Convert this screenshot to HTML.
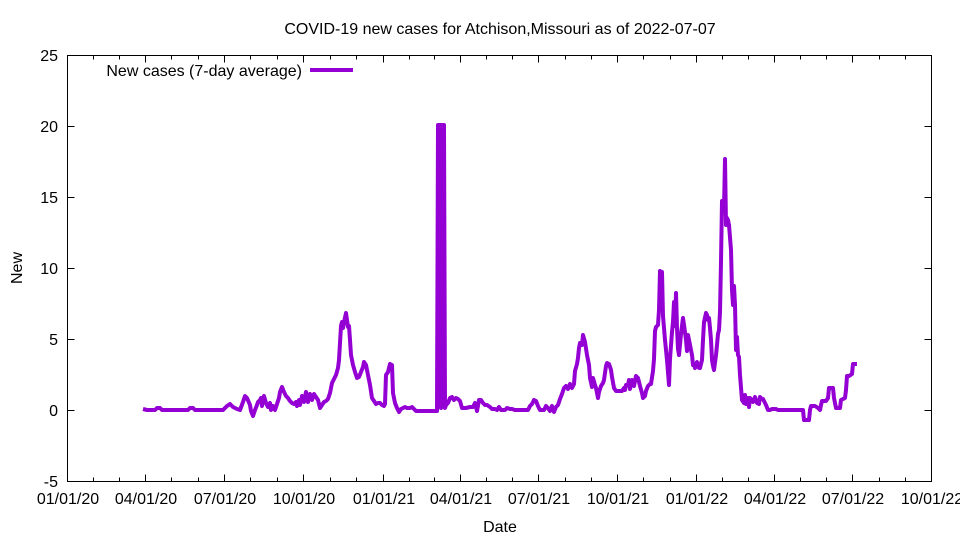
<!DOCTYPE html>
<html><head><meta charset="utf-8"><style>html,body{margin:0;padding:0;background:#fff}svg{display:block}text{font-family:"Liberation Sans",Arial,sans-serif;fill:#000}</style></head><body>
<svg width="960" height="540" xmlns="http://www.w3.org/2000/svg">
<rect width="960" height="540" fill="#fff"/>
<text x="500" y="34" font-size="16" text-anchor="middle">COVID-19 new cases for Atchison,Missouri as of 2022-07-07</text>
<g stroke="#000" stroke-width="1" fill="none">
<rect x="67.5" y="55.5" width="864" height="426"/>
<path d="M67.5 126.5h7M931.5 126.5h-7M67.5 197.5h7M931.5 197.5h-7M67.5 268.5h7M931.5 268.5h-7M67.5 339.5h7M931.5 339.5h-7M67.5 410.5h7M931.5 410.5h-7"/>
<path d="M145.5 481.5v-7M145.5 55.5v7M224.5 481.5v-7M224.5 55.5v7M303.5 481.5v-7M303.5 55.5v7M383.5 481.5v-7M383.5 55.5v7M460.5 481.5v-7M460.5 55.5v7M538.5 481.5v-7M538.5 55.5v7M617.5 481.5v-7M617.5 55.5v7M696.5 481.5v-7M696.5 55.5v7M774.5 481.5v-7M774.5 55.5v7M852.5 481.5v-7M852.5 55.5v7"/>
<path d="M93.5 481.5v-4M119.5 481.5v-4M171.5 481.5v-4M198.5 481.5v-4M250.5 481.5v-4M277.5 481.5v-4M330.5 481.5v-4M356.5 481.5v-4M409.5 481.5v-4M434.5 481.5v-4M486.5 481.5v-4M512.5 481.5v-4M565.5 481.5v-4M591.5 481.5v-4M643.5 481.5v-4M670.5 481.5v-4M722.5 481.5v-4M748.5 481.5v-4M800.5 481.5v-4M826.5 481.5v-4M879.5 481.5v-4M905.5 481.5v-4
M93.5 55.5v4M119.5 55.5v4M171.5 55.5v4M198.5 55.5v4M250.5 55.5v4M277.5 55.5v4M330.5 55.5v4M356.5 55.5v4M409.5 55.5v4M434.5 55.5v4M486.5 55.5v4M512.5 55.5v4M565.5 55.5v4M591.5 55.5v4M643.5 55.5v4M670.5 55.5v4M722.5 55.5v4M748.5 55.5v4M800.5 55.5v4M826.5 55.5v4M879.5 55.5v4M905.5 55.5v4"/>
</g>
<g font-size="16" text-anchor="end">
<text x="58" y="61">25</text><text x="58" y="132">20</text><text x="58" y="203">15</text><text x="58" y="274">10</text><text x="58" y="345">5</text><text x="58" y="416">0</text><text x="58" y="487">-5</text>
</g>
<g font-size="16" text-anchor="middle">
<text x="68" y="504">01/01/20</text><text x="146" y="504">04/01/20</text><text x="225" y="504">07/01/20</text><text x="304" y="504">10/01/20</text><text x="384" y="504">01/01/21</text><text x="461" y="504">04/01/21</text><text x="539" y="504">07/01/21</text><text x="618" y="504">10/01/21</text><text x="697" y="504">01/01/22</text><text x="775" y="504">04/01/22</text><text x="853" y="504">07/01/22</text><text x="932" y="504">10/01/22</text>
</g>
<text x="500" y="532" font-size="16" text-anchor="middle">Date</text>
<text transform="translate(22,268) rotate(-90)" font-size="16" text-anchor="middle">New</text>
<text x="302" y="76" font-size="16" text-anchor="end">New cases (7-day average)</text>
<path d="M310 70H353" stroke="#9400d3" stroke-width="4"/>
<polyline fill="none" stroke="#9400d3" stroke-width="4" stroke-linejoin="round" points="143,409 147,410 155,410 157,408 160,408 162,410 188,410 190,408 193,408 195,410 223,410 227,406 230,404 233,407 237,409 240,410 243,402 245,396 247,398 250,405 251,411 253,416 255,410 257,405 258,402 260,400 261,398 262,406 264,396 266,403 268,407 270,403 271,410 273,406 275,410 277,404 279,398 280,392 282,387 284,392 286,396 288,398 290,401 292,403 294,404 296,402 297,406 299,400 300,405 302,396 304,402 306,392 308,402 310,394 312,400 314,394 316,397 318,400 320,408 322,405 324,402 326,401 328,399 330,393 332,383 334,379 336,375 338,368 339,360 341,326 342,322 343,328 344,322 346,313 347,320 348,327 349,326 350,340 351,355 353,365 355,372 357,378 359,377 361,372 363,367 364,362 366,365 368,375 370,385 372,398 374,401 376,404 378,403 380,403 382,405 384,406 385,404 386,375 388,372 390,364 392,365 393,393 395,403 397,408 399,412 401,409 403,408 405,407 407,408 410,408 412,407 414,409 416,411 420,411 437,411 438,125 441,125 441,408 442,125 444,125 445,408 446,405 448,403 450,398 452,397 454,400 456,398 458,399 460,401 462,408 466,408 470,407 473,407 475,403 477,411 479,400 481,400 483,403 485,405 487,405 490,407 492,409 495,409 497,410 499,407 501,410 505,410 507,408 510,409 512,409 515,410 520,410 525,410 528,410 530,406 532,404 534,400 536,401 538,406 540,410 544,410 546,406 548,408 550,411 552,406 554,412 556,407 558,405 560,399 562,394 564,388 566,386 568,389 570,384 572,388 574,384 575,371 577,364 578,358 579,348 580,343 582,345 583,335 585,342 587,355 589,365 590,378 592,387 593,378 595,385 596,388 598,398 599,392 601,386 603,383 604,380 606,366 607,363 609,364 611,370 612,377 614,388 616,391 618,391 620,391 622,391 624,388 625,390 626,385 628,385 629,380 630,389 632,380 634,386 636,376 638,378 640,386 642,393 643,398 645,396 646,391 648,386 650,384 651,384 653,371 654,359 655,331 656,327 658,325 659,310 660,271 661,302 662,272 663,316 665,340 667,360 669,385 670,359 672,332 673,322 674,302 675,326 676,293 677,328 678,349 679,355 681,334 683,318 685,332 686,340 687,351 688,335 690,345 692,355 693,365 694,364 695,368 697,362 699,368 700,368 702,360 703,340 704,322 706,313 707,315 708,320 709,318 710,328 711,340 712,360 713,366 714,370 716,355 717,345 718,334 719,330 720,312 721,262 722,201 723,204 724,208 725,159 726,225 727,218 728,220 729,225 731,250 732,290 733,305 734,286 735,305 736,350 737,337 738,355 739,357 740,375 742,400 744,403 745,395 746,404 748,398 749,407 750,398 752,401 753,402 755,397 757,403 759,404 760,397 762,399 763,399 765,403 766,405 768,410 770,410 772,409 776,409 778,410 803,410 804,420 809,420 810,410 811,406 815,406 818,408 820,410 821,405 822,401 826,401 828,398 829,388 833,388 834,398 836,408 840,408 841,400 845,398 846,390 847,376 849,376 852,374 853,364 857,364"/>
</svg>
</body></html>
